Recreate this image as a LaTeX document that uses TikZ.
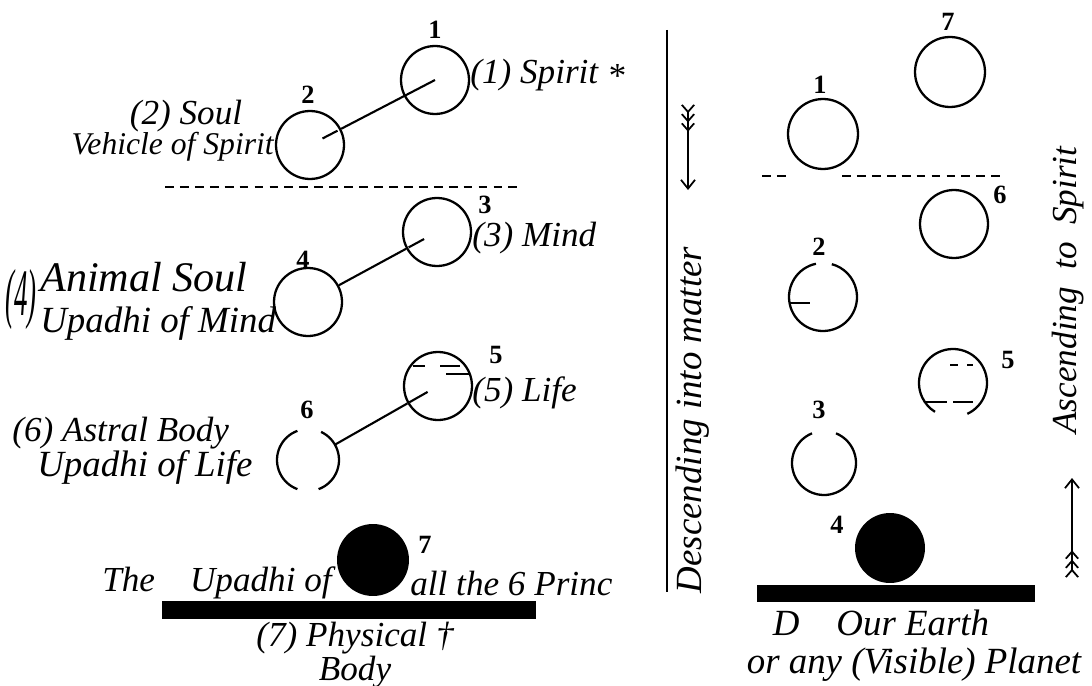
\documentclass[tikz,border=0pt]{standalone}
\usepackage{fontspec}
\setmainfont{Liberation Serif}
\usepackage{tikz}
\usetikzlibrary{calc,arrows.meta}
\tikzstyle{ring} = [circle, draw, line width=1.3pt, minimum size=1.36cm, inner sep=0pt]
\tikzstyle{hollow} = [circle, minimum size=1.36cm, inner sep=0pt]
\tikzstyle{orb} = [circle, fill=black, minimum size=1.44cm, inner sep=0pt]
\tikzstyle{ground} = [rectangle, fill=black, inner sep=0pt]
\tikzstyle{num} = [font=\bfseries\fontsize{15}{15}\selectfont, inner sep=0pt]
\tikzstyle{txt} = [font=\itshape\fontsize{20}{22}\selectfont, inner sep=0pt]
\tikzstyle{big} = [font=\itshape\fontsize{21}{24}\selectfont, inner sep=0pt]
\tikzstyle{small} = [font=\itshape\fontsize{18}{20}\selectfont, inner sep=0pt]
\tikzstyle{line} = [draw, line width=1.2pt]
\tikzstyle{arcline} = [draw, line width=1.3pt]
\tikzstyle{arrow} = [draw, line width=1pt, {Straight Barb[reversed,length=4pt,width=7pt]Straight Barb[reversed,length=4pt,width=7pt]Straight Barb[reversed,length=4pt,width=7pt]}-{Straight Barb[length=5pt,width=8pt]}]

\begin{document}
\begin{tikzpicture}[x=0.02cm, y=-0.02cm]
\useasboundingbox (0,0) rectangle (1092,686);
% left column: the seven principles
\node [ring] (a1) at (435,80) {};
\node [ring] (a2) at (310,145) {};
\node [ring] (a3) at (437,232) {};
\node [ring] (a4) at (308,302) {};
\node [ring] (a5) at (438,386) {};
\node [hollow, minimum size=1.24cm] (a6) at (308,460) {};
\node [orb] (a7) at (373,560) {};
\node [ground, minimum width=7.5cm, minimum height=0.36cm] (floor-a) at (349,610) {};
\node [num] (n-a1) at (435,30) {1};
\node [num] (n-a2) at (308,95) {2};
\node [num] (n-a3) at (485,205) {3};
\node [num] (n-a4) at (303,260) {4};
\node [num] (n-a5) at (496,355) {5};
\node [num] (n-a6) at (307,410) {6};
\node [num] (n-a7) at (425,545) {7};
\draw [arcline] ([shift={(110:0.62cm)}]a6.center) arc [start angle=110, end angle=250, radius=0.62cm];
\draw [arcline] ([shift={(-70:0.62cm)}]a6.center) arc [start angle=-70, end angle=65, radius=0.62cm];
\path [line] (a2) -- (a1.center);
\path [line] ($(a2)!0.1!(a1)$) -- ($(a2)!0.22!(a1)$);
\path [line] (a4) -- (a3);
\path [line] ($(a3)!0.1!(a4)$) -- ($(a3)!0.22!(a4)$);
\path [line] (a6) -- (a5);
\path [line] ($(a5)!0.08!(a6)$) -- ($(a5)!0.22!(a6)$);
\draw [line width=0.8pt] ($(a5)+(-25,-20)$) -- ++(12,0) ($(a5)+(2,-20)$) -- ++(20,0) ($(a5)+(8,-12)$) -- ++(24,0);
\coordinate (cut-a1) at (165,187);
\coordinate (cut-a2) at (520,187);
\path [line, dash pattern=on 5pt off 3.5pt] (cut-a1) -- (cut-a2);
\node [txt, anchor=west] (spirit) at (470,75) {(1) Spirit \raisebox{-0.25ex}{*}};
\node [txt] (soul) at (186,116) {(2) Soul};
\node [small, anchor=east] (vehicle) at (274,147) {Vehicle of Spirit};
\node [txt, anchor=west] (mind) at (472,238) {(3) Mind};
\node [font=\itshape\fontsize{18}{18}\selectfont, inner sep=0pt] (four) at (21,300) {\scalebox{0.85}[2.1]{(4)}};
\node [font=\itshape\fontsize{24}{26}\selectfont, inner sep=0pt, anchor=west] (animal) at (40,277) {Animal Soul};
\node [big, anchor=west] (up-mind) at (40,323) {Upadhi of Mind};
\node [txt, anchor=west] (life) at (472,393) {(5) Life};
\node [txt, anchor=west] (astral) at (12,433) {(6) Astral Body};
\node [big, anchor=west] (up-life) at (37,467) {Upadhi of Life};
\node [txt, anchor=east] (upadhi) at (332,583) {The\quad Upadhi of};
\node [txt, anchor=west] (princ) at (410,583) {all the 6 Princ};
\node [txt, align=center] (physical) at (355,655) {(7) Physical \dag\\[-3pt]Body};
% middle: the divide
\coordinate (rule-top) at (667,30);
\coordinate (rule-bot) at (667,592);
\path [line] (rule-top) -- (rule-bot);
\node [big, rotate=90] (descend) at (693,420) {Descending into matter};
\coordinate (d-tail) at (688,104);
\coordinate (d-head) at (688,190);
\path [arrow] (d-tail) -- (d-head);
% right column: the globes of the chain
\node [ring, minimum size=1.4cm] (r7) at (950,72) {};
\node [ring, minimum size=1.4cm] (r1) at (823,134) {};
\node [ring] (r6) at (954,224) {};
\node [hollow] (r2) at (823,297) {};
\node [hollow] (r5) at (953,383) {};
\node [hollow, minimum size=1.28cm] (r3) at (824,463) {};
\node [orb, minimum size=1.4cm] (r4) at (890,548) {};
\node [ground, minimum width=5.56cm, minimum height=0.34cm] (floor-r) at (896,593) {};
\node [num] (n-r7) at (948,22) {7};
\node [num] (n-r1) at (820,85) {1};
\node [num] (n-r6) at (1000,195) {6};
\node [num] (n-r2) at (819,247) {2};
\node [num] (n-r5) at (1008,360) {5};
\node [num] (n-r3) at (819,410) {3};
\node [num] (n-r4) at (837,525) {4};
\draw [arcline] ([shift={(102:0.68cm)}]r2.center) arc [start angle=102, end angle=435, radius=0.68cm];
\draw [arcline] ($(r2)+(-33,6)$) -- ++(20,0);
\draw [arcline] ([shift={(-65:0.68cm)}]r5.center) arc [start angle=-65, end angle=238, radius=0.68cm];
\draw [line width=0.8pt] ($(r5)+(-3,-18)$) -- ++(8,0) ($(r5)+(14,-18)$) -- ++(6,0) ($(r5)+(-28,19)$) -- ++(22,0) ($(r5)+(0,19)$) -- ++(20,0);
\draw [arcline] ([shift={(112:0.64cm)}]r3.center) arc [start angle=112, end angle=428, radius=0.64cm];
\coordinate (cut-r1) at (762,176);
\coordinate (cut-r2) at (789,176);
\coordinate (cut-r3) at (842,176);
\coordinate (cut-r4) at (1000,176);
\path [line, dash pattern=on 5pt off 3.5pt] (cut-r1) -- (cut-r2);
\path [line, dash pattern=on 5pt off 3.5pt] (cut-r3) -- (cut-r4);
\node [big] (earth) at (881,623) {D\quad Our Earth};
\node [big] (planet) at (914,665) {or any (Visible) Planet};
\node [txt, rotate=90] (ascend) at (1068,290) {Ascending\enspace to\enspace Spirit};
\coordinate (u-tail) at (1072,578);
\coordinate (u-head) at (1072,478);
\path [arrow] (u-tail) -- (u-head);
\end{tikzpicture}
\end{document}
